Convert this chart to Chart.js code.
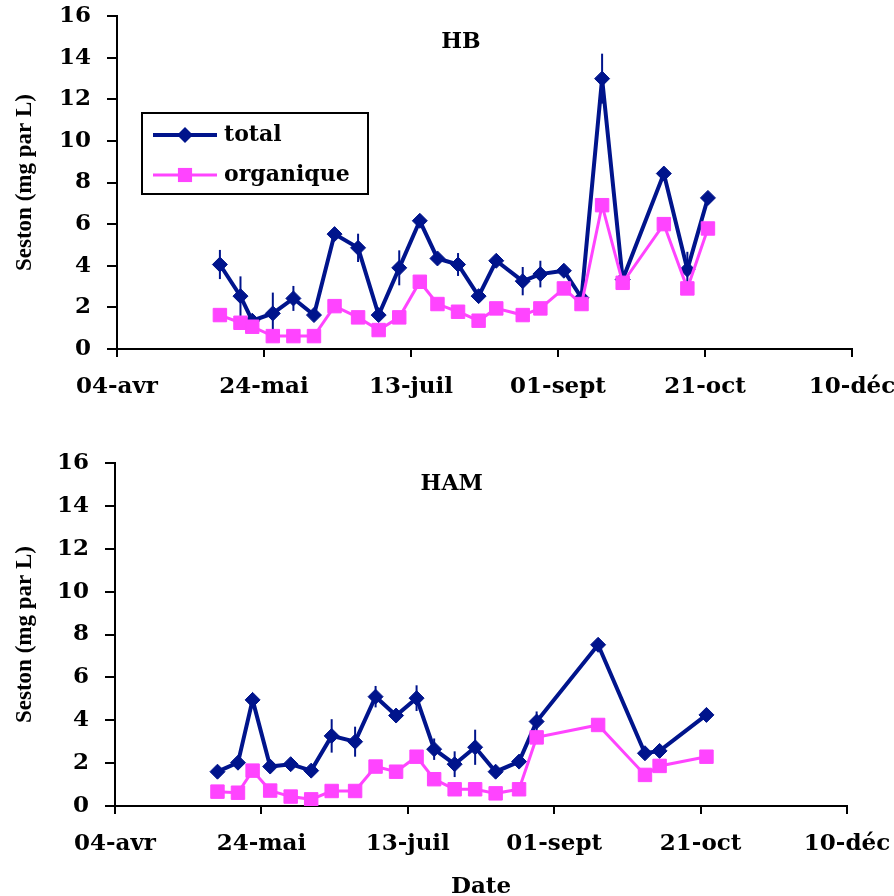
<!DOCTYPE html>
<html>
<head>
<meta charset="utf-8">
<script src="https://cdn.jsdelivr.net/npm/chart.js@4/dist/chart.umd.min.js"></script>
<style>
  body { margin: 0; background: #fff; }
  canvas { position: absolute; left: 0; }
</style>
</head>
<body>
<canvas id="hbChart" width="894" height="420" style="top:0"></canvas>
<canvas id="hamChart" width="894" height="476" style="top:420px"></canvas>
<script>
// x tick labels, one every 50 days starting 04-avr
var tickLabels = ['04-avr', '24-mai', '13-juil', '01-sept', '21-oct', '10-déc'];

// HB : sampling days (days after 04-avr), seston in mg par L
var hbDays = [35, 42, 46, 53, 60, 67, 74, 82, 89, 96, 103, 109, 116, 123, 129, 138, 144, 152, 158, 165, 172, 186, 194, 201];
var hbTotal = [4.06, 2.54, 1.36, 1.71, 2.43, 1.63, 5.52, 4.86, 1.63, 3.9, 6.16, 4.35, 4.06, 2.54, 4.24, 3.26, 3.6, 3.76, 2.46, 12.99, 3.34, 8.43, 3.82, 7.26];
var hbTotalErr = [0.7, 0.95, 0, 1.0, 0.6, 0, 0, 0.68, 0, 0.84, 0, 0, 0.55, 0, 0, 0.68, 0.64, 0, 0, 1.2, 0, 0, 0.85, 0];
var hbOrganique = [1.63, 1.26, 1.07, 0.62, 0.62, 0.62, 2.06, 1.52, 0.91, 1.52, 3.23, 2.16, 1.79, 1.36, 1.95, 1.63, 1.95, 2.91, 2.16, 6.91, 3.18, 6.0, 2.91, 5.79];

// HAM
var hamDays = [35, 42, 47, 53, 60, 67, 74, 82, 89, 96, 103, 109, 116, 123, 130, 138, 144, 165, 181, 186, 202];
var hamTotal = [1.6, 2.02, 4.95, 1.84, 1.95, 1.65, 3.27, 3.0, 5.1, 4.22, 5.03, 2.65, 1.95, 2.74, 1.6, 2.07, 3.94, 7.52, 2.46, 2.57, 4.25];
var hamTotalErr = [0, 0, 0, 0, 0, 0, 0.78, 0.7, 0.5, 0, 0.6, 0.5, 0.6, 0.82, 0.3, 0, 0.47, 0, 0, 0, 0];
var hamOrganique = [0.67, 0.62, 1.65, 0.72, 0.44, 0.31, 0.7, 0.7, 1.84, 1.6, 2.3, 1.25, 0.78, 0.78, 0.59, 0.78, 3.2, 3.78, 1.45, 1.87, 2.3];

var navy = '#00148c';
var pink = '#ff44ff';
var tickFont = { family: '"DejaVu Serif"', size: 23, weight: 'bold' };

function points(days, values) {
  return days.map(function (d, i) { return { x: d, y: values[i] }; });
}

// vertical error bars on the total series
var errorBars = {
  id: 'errorBars',
  beforeDatasetsDraw: function (chart) {
    var ctx = chart.ctx, yScale = chart.scales.y;
    chart.data.datasets.forEach(function (ds, i) {
      if (!ds.errors) return;
      var meta = chart.getDatasetMeta(i);
      ctx.save();
      ctx.strokeStyle = ds.borderColor;
      ctx.lineWidth = 2;
      meta.data.forEach(function (pt, j) {
        var e = ds.errors[j];
        if (!e) return;
        var v = ds.data[j].y;
        ctx.beginPath();
        ctx.moveTo(pt.x, yScale.getPixelForValue(v - e));
        ctx.lineTo(pt.x, yScale.getPixelForValue(v + e));
        ctx.stroke();
      });
      ctx.restore();
    });
  }
};

// station name written inside the plot
var siteLabel = {
  id: 'siteLabel',
  afterDraw: function (chart, args, o) {
    var ctx = chart.ctx;
    ctx.save();
    ctx.font = 'bold 22px "DejaVu Serif"';
    ctx.fillStyle = '#000';
    ctx.textAlign = 'center';
    ctx.textBaseline = 'middle';
    ctx.fillText(o.text, chart.scales.x.getPixelForValue(o.x), chart.scales.y.getPixelForValue(o.y));
    ctx.restore();
  }
};

function marker(ctx, style, x, y, r) {
  ctx.beginPath();
  if (style === 'rectRot') {
    ctx.moveTo(x - r, y); ctx.lineTo(x, y - r); ctx.lineTo(x + r, y); ctx.lineTo(x, y + r);
  } else {
    var s = r * Math.SQRT1_2;
    ctx.rect(x - s, y - s, 2 * s, 2 * s);
  }
  ctx.closePath();
  ctx.fill();
}

// framed legend inside the plot (top chart only)
var boxLegend = {
  id: 'boxLegend',
  afterDraw: function (chart, args, o) {
    if (!o.show) return;
    var ctx = chart.ctx, a = chart.chartArea;
    var x0 = a.left + 25, y0 = a.top + 97;
    ctx.save();
    ctx.strokeStyle = '#000';
    ctx.lineWidth = 2;
    ctx.strokeRect(x0, y0, 226, 81);
    chart.data.datasets.forEach(function (ds, i) {
      var cy = y0 + 22 + i * 40;
      ctx.strokeStyle = ds.borderColor;
      ctx.lineWidth = ds.borderWidth;
      ctx.beginPath();
      ctx.moveTo(x0 + 11, cy);
      ctx.lineTo(x0 + 75, cy);
      ctx.stroke();
      ctx.fillStyle = ds.pointBackgroundColor;
      marker(ctx, ds.pointStyle, x0 + 43, cy, ds.pointRadius + 0.5);
      ctx.fillStyle = '#000';
      ctx.font = 'bold 22px "DejaVu Serif"';
      ctx.textBaseline = 'middle';
      ctx.fillText(ds.label, x0 + 82, cy);
    });
    ctx.restore();
  }
};

function makeChart(id, cfg) {
  var xAxis = {
    type: 'linear',
    min: 0,
    max: 250,
    ticks: {
      stepSize: 50,
      color: '#000',
      font: tickFont,
      padding: 16,
      callback: function (v) { return tickLabels[v / 50]; }
    },
    grid: { drawOnChartArea: false, drawTicks: true, tickLength: 8, color: '#000', lineWidth: 2 },
    border: { color: '#000', width: 2 },
    title: {
      display: cfg.xTitle,
      text: 'Date',
      color: '#000',
      font: { family: '"DejaVu Serif"', size: 23, weight: 'bold', lineHeight: 0.8 },
      padding: { top: 0, bottom: 0 }
    },
    afterFit: function (scale) {
      scale.height = cfg.xHeight;
      scale.paddingLeft = 0;
      scale.paddingRight = 0;
    }
  };
  var yAxis = {
    min: 0,
    max: 16,
    ticks: { stepSize: 2, color: '#000', font: tickFont, padding: 16 },
    grid: { drawOnChartArea: false, drawTicks: true, tickLength: 10, color: '#000', lineWidth: 2 },
    border: { color: '#000', width: 2 },
    title: {
      display: true,
      text: 'Seston (mg par L)',
      color: '#000',
      font: { family: '"Liberation Serif"', size: 23, weight: 'bold' },
      padding: { top: 11, bottom: 0 }
    },
    afterFit: function (scale) {
      scale.width = cfg.yWidth;
      scale.paddingTop = 0;
      scale.paddingBottom = 0;
    }
  };

  return new Chart(document.getElementById(id).getContext('2d'), {
    type: 'line',
    data: {
      datasets: [
        {
          label: 'total',
          data: points(cfg.days, cfg.total),
          errors: cfg.errors,
          borderColor: navy,
          backgroundColor: navy,
          borderWidth: 4,
          pointStyle: 'rectRot',
          pointRadius: 7.5,
          pointBackgroundColor: navy,
          pointBorderColor: navy,
          pointBorderWidth: 1,
          tension: 0,
          order: 1
        },
        {
          label: 'organique',
          data: points(cfg.days, cfg.organique),
          borderColor: pink,
          backgroundColor: pink,
          borderWidth: 3,
          pointStyle: 'rect',
          pointRadius: 9.5,
          pointBackgroundColor: pink,
          pointBorderColor: pink,
          pointBorderWidth: 1,
          tension: 0,
          order: 0
        }
      ]
    },
    options: {
      responsive: false,
      animation: false,
      events: [],
      layout: { padding: cfg.padding },
      scales: { x: xAxis, y: yAxis },
      plugins: {
        legend: { display: false },
        tooltip: { enabled: false },
        siteLabel: cfg.site,
        boxLegend: { show: cfg.legend }
      }
    },
    plugins: [errorBars, siteLabel, boxLegend]
  });
}

makeChart('hbChart', {
  days: hbDays, total: hbTotal, errors: hbTotalErr, organique: hbOrganique,
  site: { text: 'HB', x: 117, y: 14.75 },
  legend: true, xTitle: false,
  xHeight: 71, yWidth: 117,
  padding: { top: 16, right: 42, bottom: 0, left: 0 }
});

makeChart('hamChart', {
  days: hamDays, total: hamTotal, errors: hamTotalErr, organique: hamOrganique,
  site: { text: 'HAM', x: 115, y: 15 },
  legend: false, xTitle: true,
  xHeight: 90, yWidth: 115,
  padding: { top: 43, right: 47, bottom: 0, left: 0 }
});
</script>
</body>
</html>
